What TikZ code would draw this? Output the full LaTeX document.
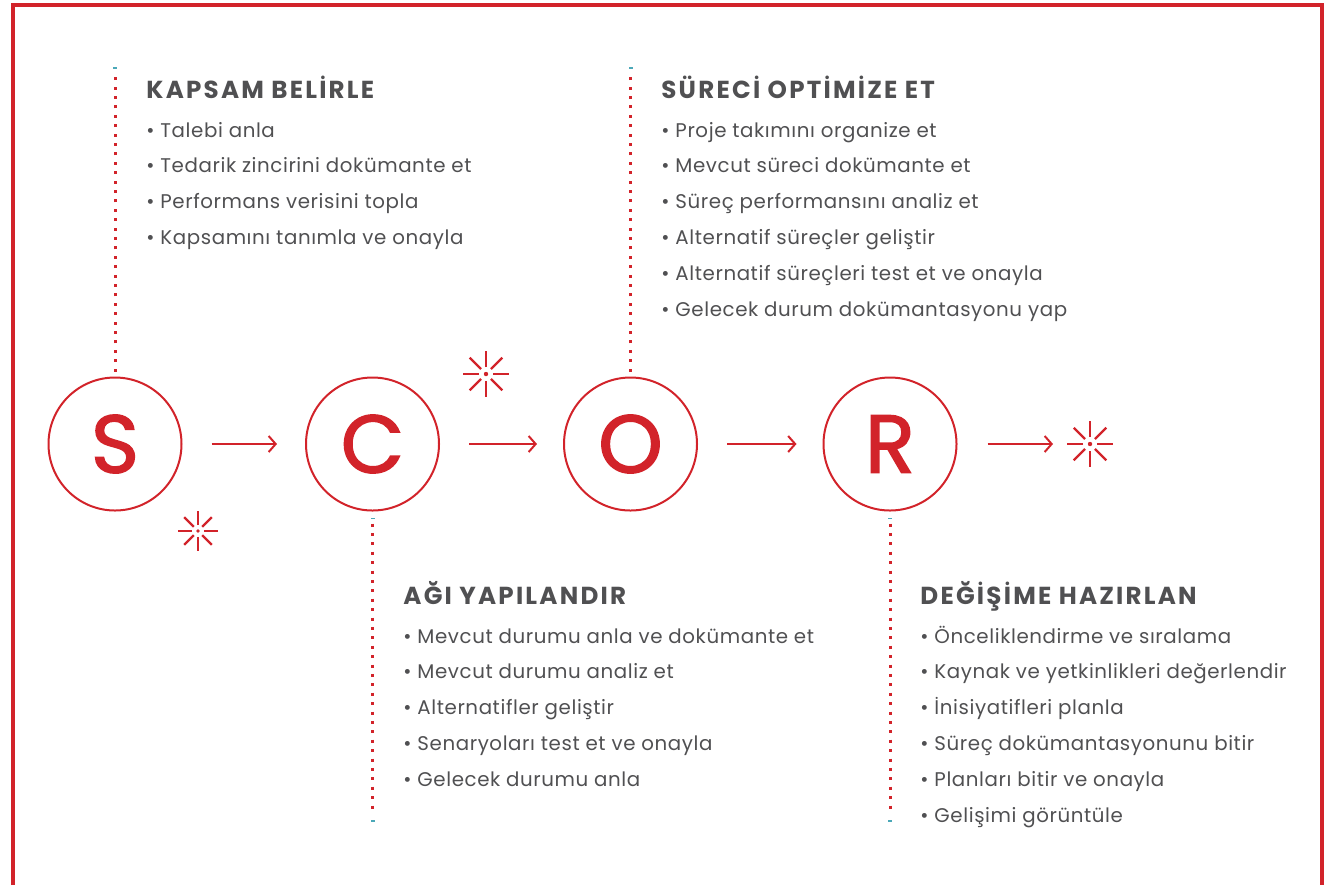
\documentclass[tikz,border=0pt]{standalone}
\usepackage{fontspec}
\setmainfont{Poppins}
\newfontfamily\headfont{Poppins}[LetterSpace=9]
\newfontfamily\itemfont{Poppins}[LetterSpace=3]
\newfontfamily\letterfont{Poppins}[FakeBold=1.8]
\usetikzlibrary{arrows.meta,positioning}

\definecolor{scorred}{HTML}{D2232A}
\definecolor{textgray}{HTML}{505052}
\definecolor{tipteal}{HTML}{4BA8B8}

\tikzset{
  letter/.style={circle, draw=scorred, line width=1pt, minimum size=66.5pt, inner sep=0pt,
    text=scorred, font=\letterfont\fontsize{41}{41}\selectfont},
  flow/.style={draw=scorred, line width=1pt, -{Straight Barb[length=3.5pt,width=8pt]}},
  dotline/.style={draw=scorred, line width=1.5pt, dash pattern=on 1.5pt off 3.2pt},
  cyantip/.style={fill=tipteal, inner sep=0pt, minimum width=2pt, minimum height=0.8pt},
  head/.style={anchor=base west, text=textgray, inner sep=0pt, font=\headfont\fontsize{12.3}{14}\selectfont\bfseries},
  item/.style={anchor=base west, text=textgray, inner sep=0pt, font=\itemfont\fontsize{9.9}{12}\selectfont},
  spark/.pic={
    \foreach \a in {0,45,...,315}
      \draw[scorred, line width=1.2pt] (\a:3.5pt) -- (\a:11.5pt);
    \fill[scorred] (0,0) circle (1.1pt);
  }
}

\begin{document}
\begin{tikzpicture}[x=0.5pt, y=-0.5pt]
\useasboundingbox (0,0) rectangle (1327,885);
% frame, open at the bottom
\draw[scorred, line width=2pt] (12.5,885) -- (12.5,4.5) -- (1321.5,4.5) -- (1321.5,885);

% the four steps
\node[letter] (S) at (115,444) {S};
\node[letter] (C) at (372.5,444) {C};
\node[letter] (O) at (630.5,444) {O};
\node[letter] (R) at (890,444) {R};
\coordinate (end) at (1090,444);

\draw[flow, shorten <=14.5pt, shorten >=14pt] (S) -- (C);
\draw[flow, shorten <=14.5pt, shorten >=13pt] (C) -- (O);
\draw[flow, shorten <=14.5pt, shorten >=13pt] (O) -- (R);
\draw[flow, shorten <=15pt, shorten >=18.5pt] (R) -- (end);

% sparkles
\pic at (486,374) {spark};
\pic at (end) {spark};
\pic[scale=0.85] at (198,531) {spark};

% dotted leaders
\coordinate (sTop) at (115,68);
\coordinate (oTop) at (630.5,68);
\coordinate (cBot) at (372.5,821);
\coordinate (rBot) at (890,821);
\draw[dotline, shorten <=2.5pt, shorten >=3.5pt] (S.north) -- (sTop);
\draw[dotline, shorten <=2.5pt, shorten >=3.5pt] (O.north) -- (oTop);
\draw[dotline, shorten <=6pt, shorten >=3.5pt] (C.south) -- (cBot);
\draw[dotline, shorten <=6pt, shorten >=3.5pt] (R.south) -- (rBot);
\node[cyantip] at (sTop) {};
\node[cyantip] at (oTop) {};
\node[cyantip] at (cBot) {};
\node[cyantip] at (rBot) {};
\node[cyantip] at ([yshift=-3.5pt]C.south) {};
\node[cyantip] at ([yshift=-3.5pt]R.south) {};

% S: scope
\node[head] (sHead) at (146,98) {KAPSAM BELİRLE};
\foreach \t [count=\i from 0] in {Talebi anla, Tedarik zincirini dokümante et,
    Performans verisini topla, Kapsamını tanımla ve onayla}
  \node[item] (s\i) at (146,137+35.8*\i) {\textbullet\ \t};

% O: optimize
\node[head] (oHead) at (661,98) {SÜRECİ OPTİMİZE ET};
\foreach \t [count=\i from 0] in {Proje takımını organize et, Mevcut süreci dokümante et,
    Süreç performansını analiz et, Alternatif süreçler geliştir,
    Alternatif süreçleri test et ve onayla, Gelecek durum dokümantasyonu yap}
  \node[item] (o\i) at (661,137+35.8*\i) {\textbullet\ \t};

% C: configure
\node[head] (cHead) at (403,604) {AĞI YAPILANDIR};
\foreach \t [count=\i from 0] in {Mevcut durumu anla ve dokümante et, Mevcut durumu analiz et,
    Alternatifler geliştir, Senaryoları test et ve onayla, Gelecek durumu anla}
  \node[item] (c\i) at (403,643+35.8*\i) {\textbullet\ \t};

% R: ready
\node[head] (rHead) at (920,604) {DEĞİŞİME HAZIRLAN};
\foreach \t [count=\i from 0] in {Önceliklendirme ve sıralama, Kaynak ve yetkinlikleri değerlendir,
    İnisiyatifleri planla, Süreç dokümantasyonunu bitir, Planları bitir ve onayla,
    Gelişimi görüntüle}
  \node[item] (r\i) at (920,643+35.8*\i) {\textbullet\ \t};
\end{tikzpicture}
\end{document}
